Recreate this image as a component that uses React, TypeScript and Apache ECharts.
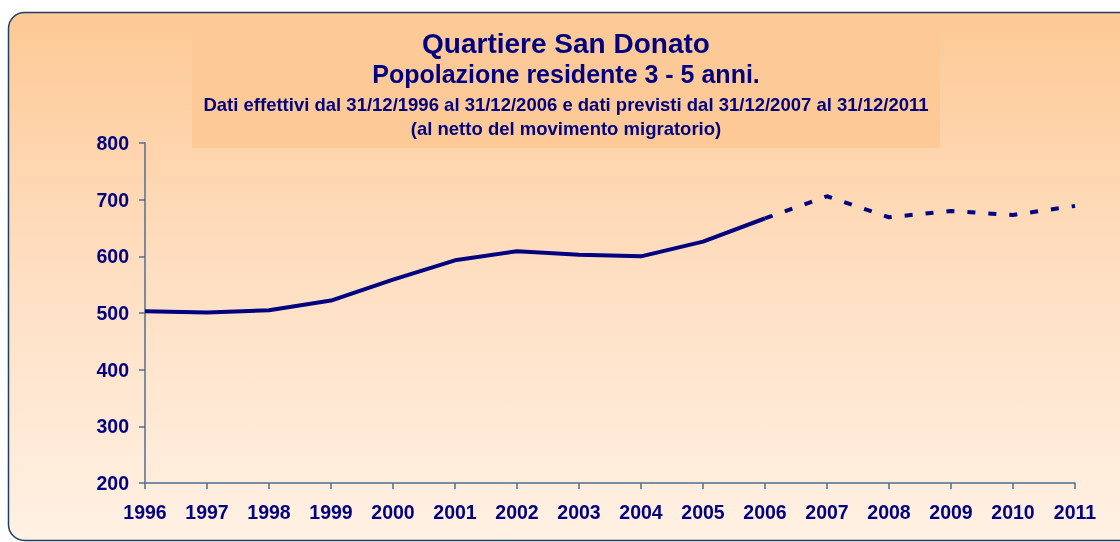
import React, { useEffect, useRef } from "react";
import * as echarts from "echarts";

const years = ["1996","1997","1998","1999","2000","2001","2002","2003","2004","2005","2006","2007","2008","2009","2010","2011"];
const actual = [503, 501, 505, 522, 559, 593, 609, 603, 600, 626, 667, null, null, null, null, null];
const forecast = [null, null, null, null, null, null, null, null, null, null, 667, 706, 669, 680, 673, 689];
const yTicks = { min: 200, max: 800, interval: 100 };

const NAVY = "#000080";
const FONT = "Liberation Sans, Arial, sans-serif";

export default function App() {
  const ref = useRef<HTMLDivElement>(null);
  useEffect(() => {
    if (!ref.current) return;
    const chart = echarts.init(ref.current, null, { renderer: "svg" });
    const t = (text: string, top: number, size: number) => ({
      text, left: 566, top, textAlign: "center", padding: 0,
      textStyle: { color: NAVY, fontFamily: FONT, fontSize: size, fontWeight: "bold" },
    });
    chart.setOption({
      animation: false,
      graphic: [
        {
          type: "rect",
          z: -10,
          silent: true,
          shape: { x: 8.5, y: 12.5, width: 1130, height: 528, r: 16 },
          style: {
            fill: new echarts.graphic.LinearGradient(0, 0, 0, 1, [
              { offset: 0, color: "#fdc995" },
              { offset: 0.5, color: "#fedfc2" },
              { offset: 1, color: "#fff1e4" },
            ]),
            stroke: "#1f3f66",
            lineWidth: 1.5,
          },
        },
        {
          type: "rect",
          z: -9,
          silent: true,
          shape: { x: 192, y: 20, width: 748, height: 128 },
          style: { fill: "#fdca97" },
        },
      ],
      title: [
        t("Quartiere San Donato", 29, 28),
        t("Popolazione residente 3 - 5 anni.", 61, 25),
        t("Dati effettivi dal 31/12/1996 al 31/12/2006 e dati previsti dal 31/12/2007 al 31/12/2011", 95, 18.5),
        t("(al netto del movimento migratorio)", 119, 18.5),
      ],
      grid: { left: 145, right: 45, top: 143, bottom: 59, containLabel: false },
      xAxis: {
        type: "category",
        data: years,
        boundaryGap: false,
        axisLine: { lineStyle: { color: "#4f6f8f", width: 1.5 } },
        axisTick: { show: true, length: 6, inside: false, lineStyle: { color: "#4f6f8f", width: 1.5 } },
        axisLabel: { color: NAVY, fontFamily: FONT, fontSize: 19.5, fontWeight: "bold", margin: 19, interval: 0 },
        splitLine: { show: false },
      },
      yAxis: {
        type: "value",
        min: yTicks.min, max: yTicks.max, interval: yTicks.interval,
        axisLine: { show: true, lineStyle: { color: "#4f6f8f", width: 1.5 } },
        axisTick: { show: true, length: 6, lineStyle: { color: "#4f6f8f", width: 1.5 } },
        axisLabel: { color: NAVY, fontFamily: FONT, fontSize: 19.5, fontWeight: "bold", margin: 16 },
        splitLine: { show: false },
      },
      series: [
        {
          type: "line",
          data: actual,
          symbol: "none",
          connectNulls: false,
          lineStyle: { color: NAVY, width: 4 },
        },
        {
          type: "line",
          data: forecast,
          symbol: "none",
          connectNulls: false,
          lineStyle: { color: NAVY, width: 4, type: [8, 13], cap: "butt" },
        },
      ],
    });
    return () => chart.dispose();
  }, []);
  return <div ref={ref} style={{ position: "fixed", left: 0, top: 0, width: 1120, height: 542 }} />;
}
